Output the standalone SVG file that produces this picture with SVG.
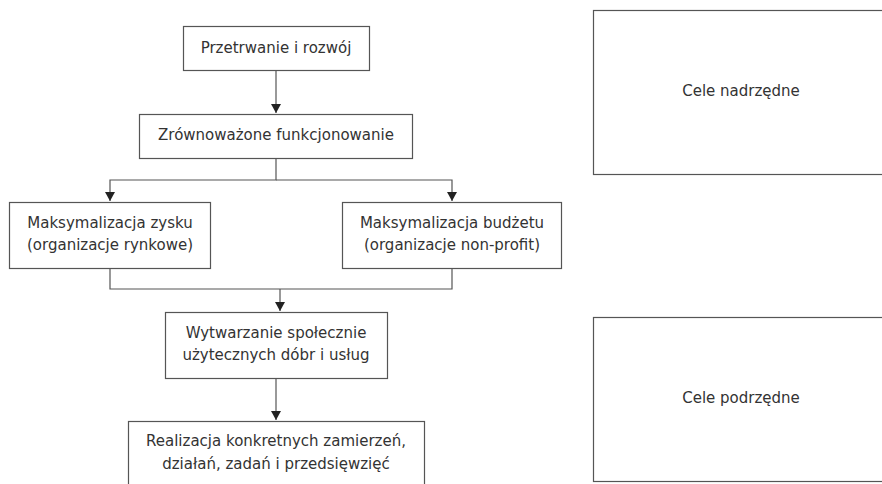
<svg xmlns="http://www.w3.org/2000/svg" width="882" height="484" viewBox="0 0 882 484">
<style>
.box{fill:#fff;stroke:#555;stroke-width:1.2}
.t{font-family:"DejaVu Sans",sans-serif;font-size:15px;fill:#333;text-anchor:middle}
.c{fill:none;stroke:#555;stroke-width:1.2}
</style>
<defs>
<marker id="ah" markerWidth="9" markerHeight="10" refX="9" refY="5" orient="auto" markerUnits="userSpaceOnUse" viewBox="0 0 9 10">
<path d="M0,0 L9,5 L0,10 Z" fill="#222"/>
</marker>
</defs>
<rect width="882" height="484" fill="#fff"/>
<g id="connectors">
<path class="c" d="M276,70 V113" marker-end="url(#ah)"/>
<path class="c" d="M276,158 V180 H110 V201" marker-end="url(#ah)"/>
<path class="c" d="M276,180 H452 V201" marker-end="url(#ah)"/>
<path class="c" d="M110,268 V289 H452 V268"/>
<path class="c" d="M280,289 V311" marker-end="url(#ah)"/>
<path class="c" d="M276,378 V420" marker-end="url(#ah)"/>
</g>
<g id="n1"><rect class="box" x="183.5" y="26.5" width="186" height="44"/><text class="t" x="276" y="53">Przetrwanie i rozwój</text></g>
<g id="n2"><rect class="box" x="139.5" y="114.5" width="273" height="44"/><text class="t" x="276" y="140">Zrównoważone funkcjonowanie</text></g>
<g id="n3"><rect class="box" x="9.5" y="202.5" width="201" height="66"/><text class="t" x="110" y="228">Maksymalizacja zysku</text><text class="t" x="110" y="250">(organizacje rynkowe)</text></g>
<g id="n4"><rect class="box" x="342.5" y="202.5" width="219" height="66"/><text class="t" x="452" y="228">Maksymalizacja budżetu</text><text class="t" x="452" y="250">(organizacje non-profit)</text></g>
<g id="n5"><rect class="box" x="165.5" y="312.5" width="222" height="66"/><text class="t" x="276" y="338">Wytwarzanie społecznie</text><text class="t" x="276" y="360">użytecznych dóbr i usług</text></g>
<g id="n6"><rect class="box" x="128.5" y="421.5" width="296" height="80"/><text class="t" x="276" y="446">Realizacja konkretnych zamierzeń,</text><text class="t" x="276" y="469">działań, zadań i przedsięwzięć</text></g>
<g id="n7"><rect class="box" x="593.5" y="10.5" width="296" height="164"/><text class="t" x="741" y="96">Cele nadrzędne</text></g>
<g id="n8"><rect class="box" x="593.5" y="317.5" width="296" height="164"/><text class="t" x="741" y="403">Cele podrzędne</text></g>
</svg>
